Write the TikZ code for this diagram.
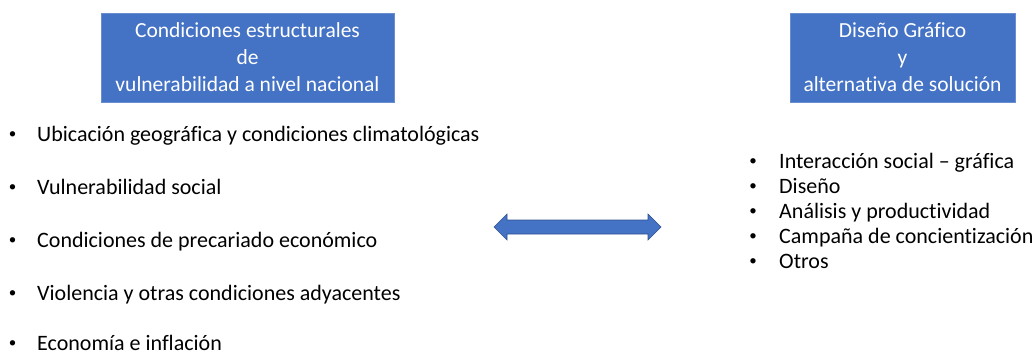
\documentclass[tikz,border=0pt]{standalone}
\usepackage{fontspec}
\setmainfont{Carlito}[Ligatures=CommonOff]
\definecolor{boxblue}{HTML}{4472C4}
\definecolor{edgeblue}{HTML}{2F528F}
\begin{document}
\begin{tikzpicture}[x=1pt,y=-1pt,
  titlebox/.style={fill=boxblue, draw=boxblue!80!white, line width=0.6pt, text=white,
    align=center, font=\fontsize{21.5}{27}\selectfont, inner sep=0pt,
    minimum height=89pt},
  item/.style={anchor=base west, inner sep=0pt, font=\fontsize{22}{26}\selectfont},
  bul/.style={anchor=base, inner sep=0pt, font=\fontsize{15}{18}\selectfont},
  dblarrow/.style={fill=boxblue, draw=edgeblue, line width=0.6pt, line join=miter}]
\useasboundingbox (0,0) rectangle (1035,354);

\node[titlebox, minimum width=293pt] (left) at (247.5,57.5)
  {Condiciones estructurales\\de\\vulnerabilidad a nivel nacional};
\node[titlebox, minimum width=225pt] (right) at (902.5,57.5)
  {Diseño Gráfico\\y\\alternativa de solución};

% left list
\foreach \y/\t [count=\i] in {141/{Ubicación geográfica y condiciones climatológicas},
  194/{Vulnerabilidad social},
  247/{Condiciones de precariado económico},
  300/{Violencia y otras condiciones adyacentes},
  350.5/{Economía e inflación}} {
  \node[bul] (lb\i) at (12.5,\y-3) {•};
  \node[item] (lt\i) at (37,\y) {\t};
}

% right list
\foreach \y/\t [count=\i] in {168/{Interacción social – gráfica},
  193/{Diseño},
  218/{Análisis y productividad},
  243/{Campaña de concientización},
  268/{Otros}} {
  \node[bul] (rb\i) at (753,\y-3) {•};
  \node[item] (rt\i) at (779,\y) {\t};
}

% double arrow
\draw[dblarrow] (494,227) -- (507,214) -- (507,220) -- (648,220) -- (648,214)
  -- (661,227) -- (648,240) -- (648,234) -- (507,234) -- (507,240) -- cycle;
\end{tikzpicture}
\end{document}
